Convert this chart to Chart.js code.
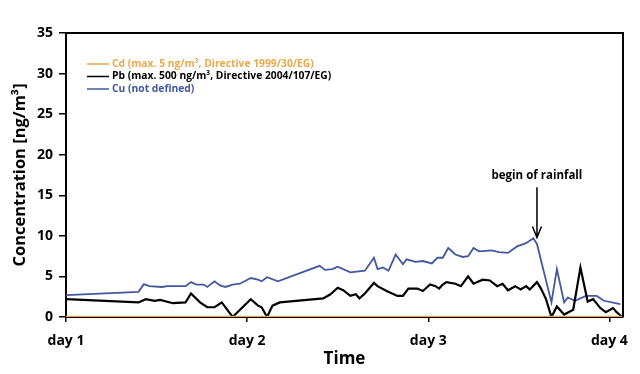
<!DOCTYPE html>
<html>
<head>
<meta charset="utf-8">
<script src="https://cdn.jsdelivr.net/npm/chart.js@4.4.1/dist/chart.umd.min.js"></script>
<style>
  html, body { margin: 0; padding: 0; background: #fff; }
  #wrap { width: 640px; height: 374px; }
</style>
</head>
<body>
<div id="wrap"><canvas id="chart"></canvas></div>
<script>
// time axis in days, values in ng/m3
const cdDays = [1.0, 4.075];
const cdValues = [0, 0];

const pbDays = [1.00, 1.40, 1.44, 1.49, 1.52, 1.59, 1.66, 1.69, 1.74, 1.78, 1.82, 1.86, 1.92,
  2.02, 2.06, 2.08, 2.11, 2.14, 2.18, 2.42, 2.46, 2.50, 2.53, 2.57, 2.60, 2.62, 2.65, 2.70,
  2.72, 2.77, 2.83, 2.86, 2.89, 2.94, 2.97, 3.01, 3.04, 3.06, 3.08, 3.10, 3.15, 3.18, 3.22,
  3.25, 3.30, 3.34, 3.38, 3.41, 3.44, 3.48, 3.51, 3.54, 3.56, 3.60, 3.62, 3.65, 3.68, 3.71,
  3.75, 3.80, 3.84, 3.88, 3.91, 3.95, 3.98, 4.02, 4.04, 4.07];
const pbValues = [2.2, 1.8, 2.2, 2.0, 2.1, 1.7, 1.8, 2.9, 1.8, 1.2, 1.2, 1.8, 0,
  2.2, 1.4, 1.2, 0, 1.4, 1.8, 2.3, 2.8, 3.6, 3.3, 2.6, 2.8, 2.3, 2.9, 4.2,
  3.8, 3.2, 2.6, 2.6, 3.5, 3.5, 3.2, 4.0, 3.8, 3.5, 4.0, 4.3, 4.1, 3.8, 5.0,
  4.1, 4.6, 4.5, 3.8, 4.1, 3.3, 3.8, 3.4, 3.8, 3.4, 4.3, 3.6, 2.2, 0, 1.3,
  0.3, 0.9, 6.1, 1.9, 2.2, 1.1, 0.6, 1.1, 0.6, 0];

const cuDays = [1.00, 1.40, 1.43, 1.46, 1.53, 1.56, 1.66, 1.69, 1.72, 1.76, 1.78, 1.82, 1.85,
  1.88, 1.92, 1.96, 2.02, 2.06, 2.08, 2.11, 2.17, 2.40, 2.43, 2.47, 2.50, 2.57, 2.65, 2.70,
  2.72, 2.75, 2.78, 2.82, 2.86, 2.88, 2.93, 2.97, 3.02, 3.05, 3.08, 3.11, 3.15, 3.19, 3.22,
  3.25, 3.28, 3.35, 3.39, 3.44, 3.49, 3.54, 3.58, 3.60, 3.68, 3.71, 3.75, 3.77, 3.81, 3.87,
  3.93, 3.97, 4.06];
const cuValues = [2.7, 3.1, 4.05, 3.8, 3.7, 3.8, 3.8, 4.3, 4.0, 4.0, 3.7, 4.4, 3.9,
  3.7, 4.0, 4.1, 4.8, 4.6, 4.4, 4.9, 4.4, 6.3, 5.8, 5.9, 6.2, 5.5, 5.7, 7.3,
  5.9, 6.1, 5.7, 7.7, 6.5, 7.1, 6.8, 6.9, 6.6, 7.3, 7.3, 8.5, 7.7, 7.4, 7.5,
  8.5, 8.1, 8.2, 8.0, 7.9, 8.7, 9.1, 9.7, 9.0, 1.8, 5.9, 1.8, 2.4, 2.0, 2.6,
  2.6, 2.0, 1.6];

const tickDays = [1, 2, 3, 4];
const tickLabels = ["day 1", "day 2", "day 3", "day 4"];

const rainDay = 3.6;
const rainArrowFrom = 16.0;
const rainArrowTo = 9.8;
const rainLabelAt = 17.4;

const FONT = "'Open Sans', 'DejaVu Sans', sans-serif";
const cdColor = "#e9a94a";
const pbColor = "#000000";
const cuColor = "#4458a0";

function pts(xs, ys) {
  return xs.map((x, i) => ({ x: x, y: ys[i] }));
}

// frame on top and right of the plot
const framePlugin = {
  id: "frame",
  afterDatasetsDraw(chart) {
    const { ctx, chartArea: a } = chart;
    ctx.save();
    ctx.strokeStyle = "#000";
    ctx.lineWidth = 2;
    ctx.beginPath();
    ctx.moveTo(a.left, a.top);
    ctx.lineTo(a.right, a.top);
    ctx.lineTo(a.right, a.bottom);
    ctx.stroke();
    ctx.restore();
  }
};

// legend drawn inside the plot, top left
const insideLegend = {
  id: "insideLegend",
  afterDraw(chart) {
    const { ctx, chartArea: a } = chart;
    ctx.save();
    ctx.font = "bold 10.3px " + FONT;
    ctx.textBaseline = "middle";
    chart.data.datasets.forEach((ds, i) => {
      const y = a.top + 31 + i * 12.5;
      ctx.strokeStyle = ds.borderColor;
      ctx.lineWidth = 1.5;
      ctx.beginPath();
      ctx.moveTo(a.left + 21, y);
      ctx.lineTo(a.left + 43, y);
      ctx.stroke();
      ctx.fillStyle = ds.legendTextColor;
      ctx.fillText(ds.label, a.left + 46, y);
    });
    ctx.restore();
  }
};

// "begin of rainfall" arrow
const rainNote = {
  id: "rainNote",
  afterDraw(chart) {
    const { ctx, scales } = chart;
    const x = scales.x.getPixelForValue(rainDay);
    const y0 = scales.y.getPixelForValue(rainArrowFrom);
    const y1 = scales.y.getPixelForValue(rainArrowTo);
    const yt = scales.y.getPixelForValue(rainLabelAt);
    ctx.save();
    ctx.strokeStyle = "#000";
    ctx.lineWidth = 1.5;
    ctx.beginPath();
    ctx.moveTo(x, y0);
    ctx.lineTo(x, y1);
    ctx.moveTo(x - 4.5, y1 - 11);
    ctx.lineTo(x, y1);
    ctx.lineTo(x + 4.5, y1 - 11);
    ctx.stroke();
    ctx.fillStyle = "#000";
    ctx.font = "bold 11.5px " + FONT;
    ctx.textAlign = "center";
    ctx.textBaseline = "middle";
    ctx.fillText("begin of rainfall", x, yt);
    ctx.restore();
  }
};

new Chart(document.getElementById("chart"), {
  type: "line",
  data: {
    datasets: [
      {
        label: "Cd (max. 5 ng/m³, Directive 1999/30/EG)",
        data: pts(cdDays, cdValues),
        borderColor: cdColor,
        legendTextColor: cdColor,
        borderWidth: 2.5,
      },
      {
        label: "Pb (max. 500 ng/m³, Directive 2004/107/EG)",
        data: pts(pbDays, pbValues),
        borderColor: pbColor,
        legendTextColor: pbColor,
        borderWidth: 2.2,
      },
      {
        label: "Cu (not defined)",
        data: pts(cuDays, cuValues),
        borderColor: cuColor,
        legendTextColor: cuColor,
        borderWidth: 1.8,
      },
    ],
  },
  options: {
    responsive: true,
    maintainAspectRatio: false,
    animation: false,
    layout: { padding: { left: 0, right: 17, top: 33, bottom: 0 } },
    elements: { point: { radius: 0 }, line: { tension: 0 } },
    plugins: { legend: { display: false }, tooltip: { enabled: false } },
    scales: {
      x: {
        type: "linear",
        min: 1,
        max: 4.075,
        afterBuildTicks(scale) {
          scale.ticks = tickDays.map(v => ({ value: v }));
        },
        afterFit(scale) { scale.height = 57; },
        ticks: {
          autoSkip: false,
          maxRotation: 0,
          padding: 11,
          color: "#000",
          font: { family: FONT, size: 14, weight: "bold" },
          callback: (v) => tickLabels[tickDays.indexOf(v)],
        },
        grid: { drawOnChartArea: false, tickLength: 5, color: "#000", lineWidth: 1.5 },
        border: { color: "#000", width: 2 },
        title: {
          display: true,
          text: "Time",
          color: "#000",
          font: { family: FONT, size: 17, weight: "bold" },
          padding: { top: 5, bottom: 5 },
        },
      },
      y: {
        min: 0,
        max: 35,
        afterFit(scale) { scale.width = 66; },
        ticks: {
          stepSize: 5,
          padding: 6,
          color: "#000",
          font: { family: FONT, size: 14, weight: "bold" },
        },
        grid: { drawOnChartArea: false, tickLength: 7, color: "#000", lineWidth: 1.5 },
        border: { color: "#000", width: 2 },
        title: {
          display: true,
          text: "Concentration [ng/m³]",
          color: "#000",
          font: { family: FONT, size: 16.5, weight: "bold" },
          padding: { top: 10, bottom: 0 },
        },
      },
    },
  },
  plugins: [framePlugin, insideLegend, rainNote],
});
</script>
</body>
</html>
